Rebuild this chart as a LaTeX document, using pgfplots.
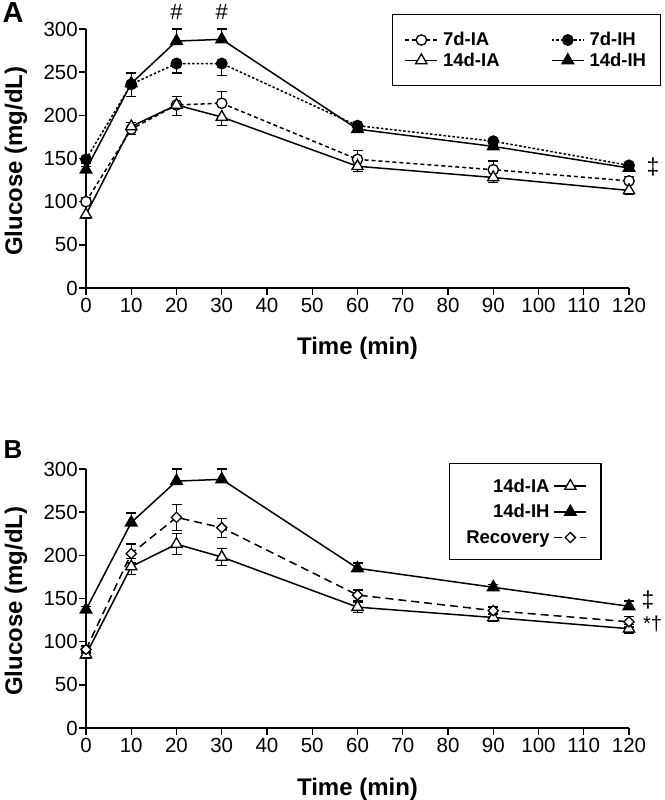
\documentclass[border=0pt]{standalone}
\usepackage{fontspec}
\setmainfont{Liberation Sans}
\usepackage{pgfplots}
\pgfplotsset{compat=1.18}

\pgfplotsset{
  glc/.style={
    anchor=south west, scale only axis, width=543bp, height=259bp,
    xmin=0, xmax=120, ymin=0, ymax=300,
    xtick={0,10,...,120}, ytick={0,50,...,300},
    axis lines=left, axis line style={-, line width=1.4bp},
    tick align=outside, major tick length=7bp,
    tick style={line width=1.4bp, black},
    clip=false,
    /pgf/number format/assume math mode=true,
    ticklabel style={font=\fontsize{20.5bp}{23bp}\selectfont},
    yticklabel style={inner xsep=1bp},
    xticklabel style={inner ysep=3bp},
    xlabel={Time (min)}, ylabel={Glucose (mg/dL)},
    label style={font=\fontsize{24bp}{26bp}\selectfont\bfseries},
    xlabel style={at={(axis description cs:0.5,-0.2587)}, anchor=base},
    ylabel style={at={(axis description cs:-0.129,0.49)}, anchor=center},
    legend image code/.code={\draw[mark repeat=2,mark phase=2,#1]
      plot coordinates {(0bp,0bp) (16bp,0bp) (32bp,0bp)};},
  },
  eb/.style={error bars/y dir=#1, error bars/y explicit,
    error bars/error bar style={line width=1.3bp, solid},
    error bars/error mark options={rotate=90, line width=1.3bp, mark size=5bp, solid}},
  s7IA/.style={black, line width=1.5bp, dash pattern=on 4bp off 3bp,
    mark=*, mark size=5.2bp, mark options={solid, fill=white, line width=1.3bp}},
  s7IH/.style={black, line width=1.5bp, dash pattern=on 2.5bp off 2bp,
    mark=*, mark size=5.2bp, mark options={solid, fill=black}},
  s14IA/.style={black, line width=1.5bp, solid,
    mark=triangle*, mark size=6.5bp, mark options={solid, fill=white, line width=1.3bp}},
  s14IH/.style={black, line width=1.5bp, solid,
    mark=triangle*, mark size=6.5bp, mark options={solid, fill=black}},
  sRec/.style={black, line width=1.5bp, dash pattern=on 8bp off 5bp,
    mark=square*, mark size=3.6bp, mark options={solid, rotate=45, fill=white, line width=1.3bp}},
}

\begin{document}
\begin{tikzpicture}
\useasboundingbox (0,0) rectangle (665bp,800bp);

% ---- panel A
\begin{axis}[glc, at={(86bp,512bp)},
  legend columns=2, legend cell align=left,
  legend style={at={(axis description cs:0.5635,1.058)}, anchor=north west,
    draw=black, line width=1.2bp, inner xsep=12bp, inner ysep=16bp,
    nodes={font=\fontsize{18.5bp}{20bp}\selectfont\bfseries, inner ysep=2bp},
    row sep=1.5bp,
    /tikz/every odd column/.append style={column sep=3bp}},
]
\addplot[s7IA, eb=plus] coordinates {
  (0,100) +- (0,5) (10,184) +- (0,8) (20,212) +- (0,10) (30,214) +- (0,14)
  (60,149) +- (0,10) (90,137) +- (0,10) (120,124) +- (0,5)
};
\addplot[s7IH, eb=minus] coordinates {
  (0,149) +- (0,5) (10,236) +- (0,14) (20,260) +- (0,11) (30,260) +- (0,14)
  (60,188) +- (0,4) (90,170) +- (0,5) (120,142) +- (0,4)
};
\addplot[s14IA, eb=minus] coordinates {
  (0,85) +- (0,4) (10,187) +- (0,9) (20,212) +- (0,12) (30,198) +- (0,10)
  (60,141) +- (0,6) (90,128) +- (0,6) (120,113) +- (0,5)
};
\addplot[s14IH, eb=plus] coordinates {
  (0,137) +- (0,4) (10,237) +- (0,12) (20,286) +- (0,14) (30,288) +- (0,12)
  (60,184) +- (0,4) (90,164) +- (0,4) (120,139) +- (0,5)
};
\legend{\makebox[106bp][l]{7d-IA},7d-IH,\makebox[106bp][l]{14d-IA},14d-IH}
\node[font=\fontsize{22bp}{22bp}\selectfont] at (axis cs:20,320) {\#};
\node[font=\fontsize{22bp}{22bp}\selectfont] at (axis cs:30,320) {\#};
\node[font=\fontsize{23bp}{23bp}\selectfont] at (axis cs:125.3,140.5) {‡};
\end{axis}

% ---- panel B
\begin{axis}[glc, at={(86bp,72bp)},
  legend cell align=right, legend plot pos=right,
  legend style={at={(axis description cs:0.6685,1.023)}, anchor=north west,
    draw=black, line width=1.2bp, inner xsep=14bp, inner ysep=13bp,
    nodes={font=\fontsize{18.5bp}{20bp}\selectfont\bfseries, inner ysep=2bp},
    row sep=7bp,
    /tikz/every odd column/.append style={column sep=2bp}},
]
\addplot[s14IA, eb=both] coordinates {
  (0,85) +- (0,4) (10,187) +- (0,9) (20,213) +- (0,12) (30,198) +- (0,10)
  (60,140) +- (0,6) (90,128) +- (0,5) (120,115) +- (0,5)
};
\addplot[s14IH, eb=plus] coordinates {
  (0,137) +- (0,4) (10,238) +- (0,11) (20,286) +- (0,14) (30,288) +- (0,12)
  (60,185) +- (0,6) (90,163) +- (0,3) (120,141) +- (0,6)
};
\addplot[sRec, eb=both] coordinates {
  (0,91) +- (0,4) (10,202) +- (0,11) (20,244) +- (0,15) (30,232) +- (0,11)
  (60,154) +- (0,6) (90,136) +- (0,4) (120,123) +- (0,6)
};
\legend{\makebox[84bp][r]{14d-IA},\makebox[84bp][r]{14d-IH},\makebox[84bp][r]{Recovery}}
\node[font=\fontsize{23bp}{23bp}\selectfont] at (axis cs:124.2,148) {‡};
\node[font=\fontsize{20bp}{20bp}\selectfont] at (axis cs:125.2,120) {*†};
\end{axis}

\node[font=\fontsize{29bp}{30bp}\selectfont\bfseries] at (13bp,787.5bp) {A};
\node[font=\fontsize{26bp}{27bp}\selectfont\bfseries] at (13bp,350bp) {B};
\end{tikzpicture}
\end{document}
